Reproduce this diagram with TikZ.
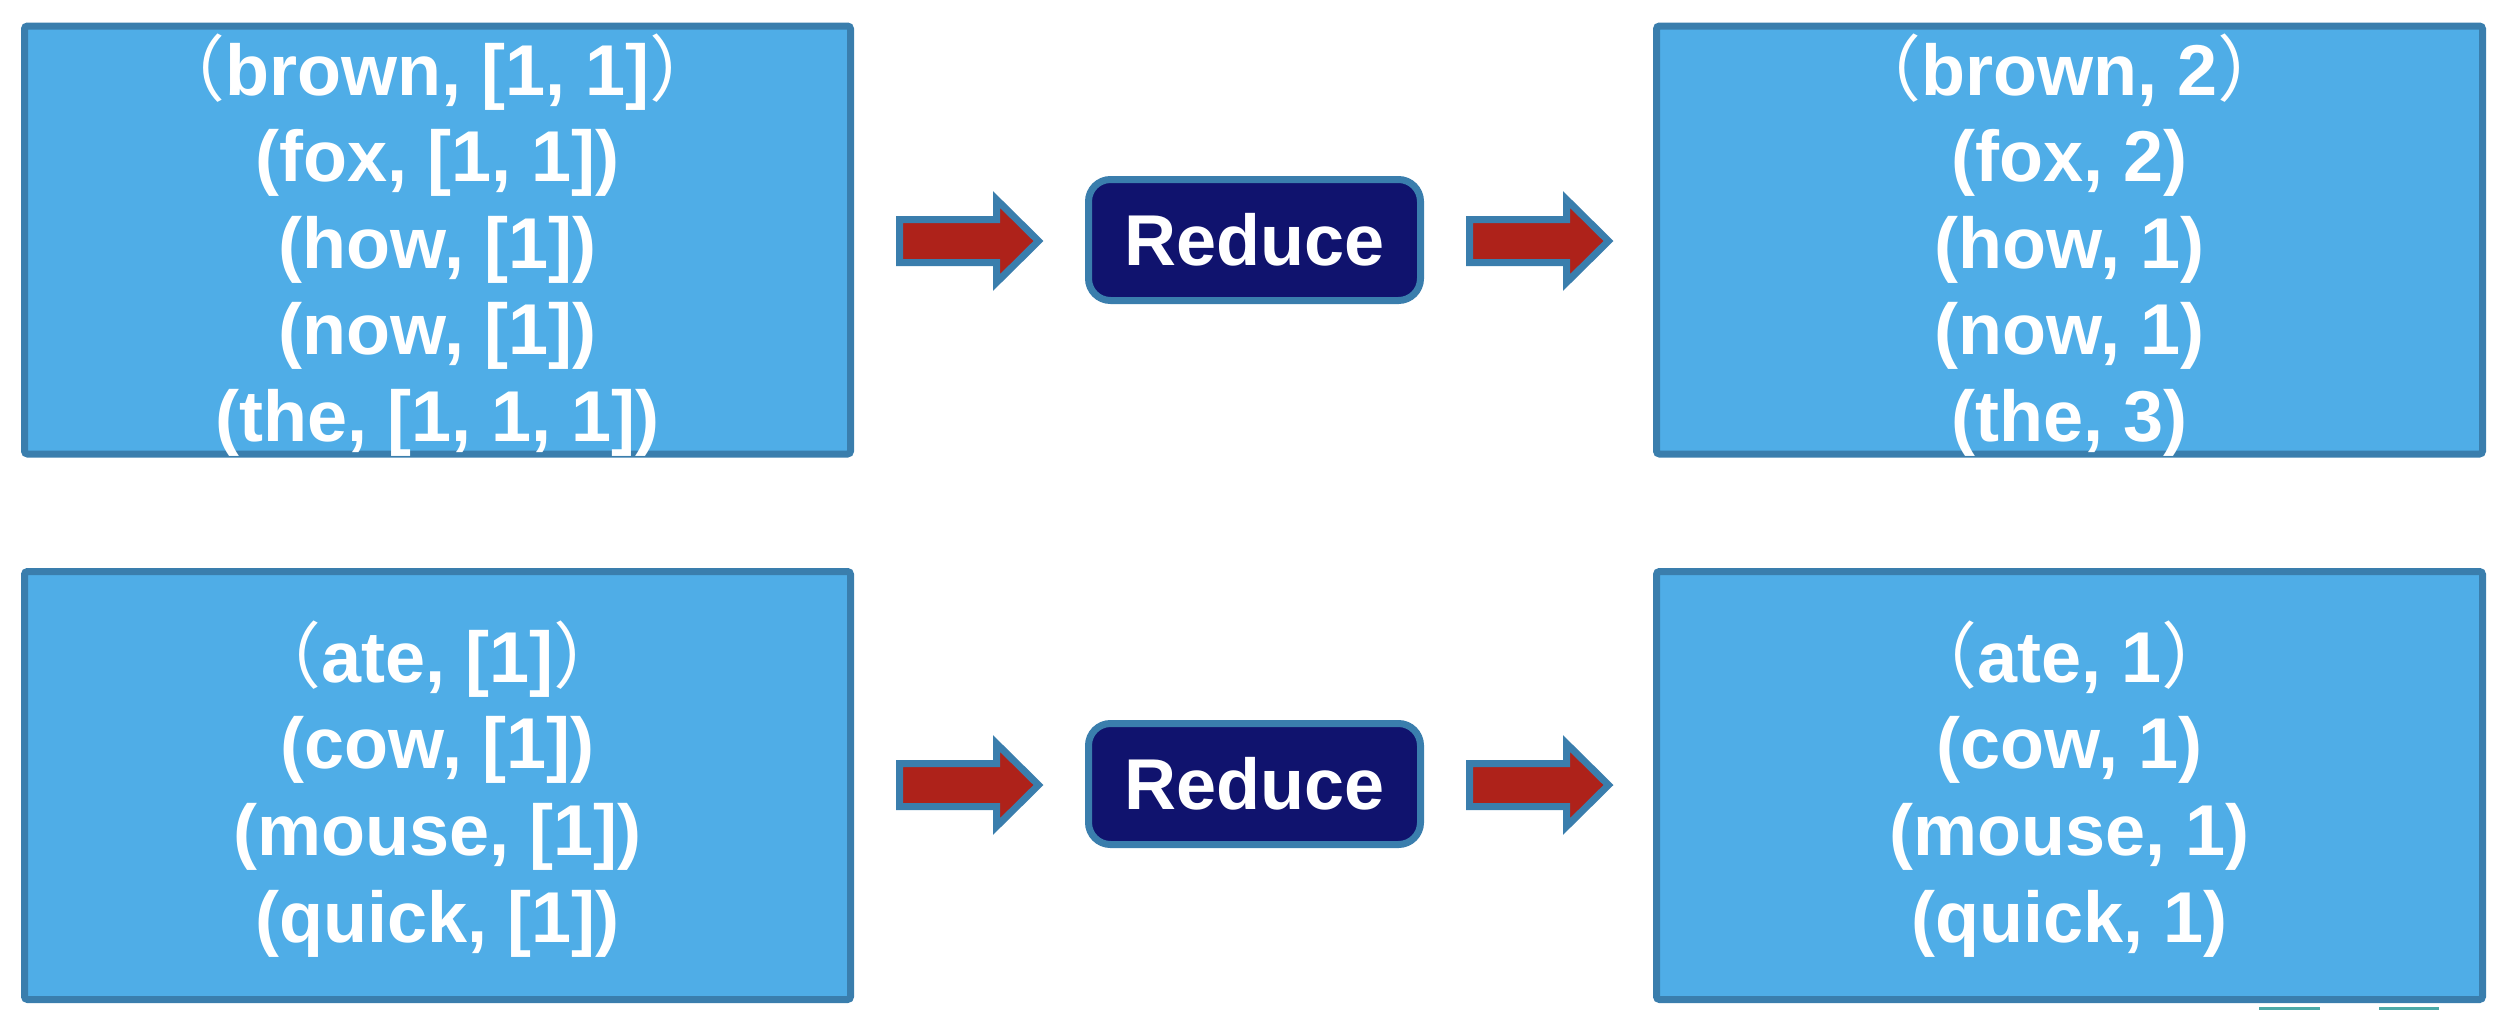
\documentclass[tikz,border=0pt]{standalone}
\usepackage{fontspec}
\setmainfont{Liberation Sans}
\newfontfamily\cjk{Noto Sans CJK SC}
\definecolor{boxfill}{HTML}{4FADE7}
\definecolor{edge}{HTML}{3A7EAD}
\definecolor{navy}{HTML}{10136E}
\definecolor{arrred}{HTML}{AE221A}
\definecolor{teal}{HTML}{4BAAA8}
\newcommand{\fwl}{{\cjk\mdseries （}}
\newcommand{\fwr}{{\cjk\mdseries ）}}
\tikzset{
  x=1pt, y=-1pt,
  databox/.style={draw=edge, fill=boxfill, line width=7pt, rounded corners=3pt,
    minimum width=826pt, minimum height=428pt, inner sep=0pt},
  reducebox/.style={draw=edge, fill=navy, line width=7pt, rounded corners=22pt,
    minimum width=332pt, minimum height=121pt, inner sep=0pt,
    text=white, font=\fontsize{72}{86}\selectfont\bfseries},
  txt/.style={anchor=base, inner sep=0pt, text=white,
    font=\fontsize{72}{86}\selectfont\bfseries},
  arrowstyle/.style={draw=edge, fill=arrred, line width=7pt, line join=miter},
  blockarrow/.pic={
    \draw[arrowstyle] (0,-21.5) -- (97,-21.5) -- (97,-41.5) -- (139,0)
      -- (97,41.5) -- (97,21.5) -- (0,21.5) -- cycle;
  }
}
\begin{document}
\begin{tikzpicture}
\useasboundingbox (0,0) rectangle (2506,1010);
% boxes
\node[databox] (inA) at (437.5,240) {};
\node[databox] (outA) at (2069.5,240) {};
\node[databox] (inB) at (437.5,785.5) {};
\node[databox] (outB) at (2069.5,785.5) {};
% reduce nodes
\node[reducebox] (redA) at (1254.5,240) {Reduce};
\node[reducebox] (redB) at (1254.5,784) {Reduce};
% block arrows
\pic (arA1) at (899.5,241) {blockarrow};
\pic (arA2) at (1469.5,241) {blockarrow};
\pic (arB1) at (899.5,785) {blockarrow};
\pic (arB2) at (1469.5,785) {blockarrow};
% texts
\foreach \t [count=\i] in {{\fwl brown, [1, 1]\fwr}, {(fox, [1, 1])}, {(how, [1])}, {(now, [1])}, {(the, [1, 1, 1])}}
  \node[txt] (inAt\i) at (437.5, 95+86.5*\i-86.5) {\t};
\foreach \t [count=\i] in {{\fwl brown, 2\fwr}, {(fox, 2)}, {(how, 1)}, {(now, 1)}, {(the, 3)}}
  \node[txt] (outAt\i) at (2069.5, 95+86.5*\i-86.5) {\t};
\foreach \t [count=\i] in {{\fwl ate, [1]\fwr}, {(cow, [1])}, {(mouse, [1])}, {(quick, [1])}}
  \node[txt] (inBt\i) at (437.5, 682+86.7*\i-86.7) {\t};
\foreach \t [count=\i] in {{\fwl ate, 1\fwr}, {(cow, 1)}, {(mouse, 1)}, {(quick, 1)}}
  \node[txt] (outBt\i) at (2069.5, 682+86.7*\i-86.7) {\t};
% small marks at bottom edge
\fill[teal] (2259,1007) rectangle (2320,1010);
\fill[teal] (2379,1007) rectangle (2439,1010);
\end{tikzpicture}
\end{document}
